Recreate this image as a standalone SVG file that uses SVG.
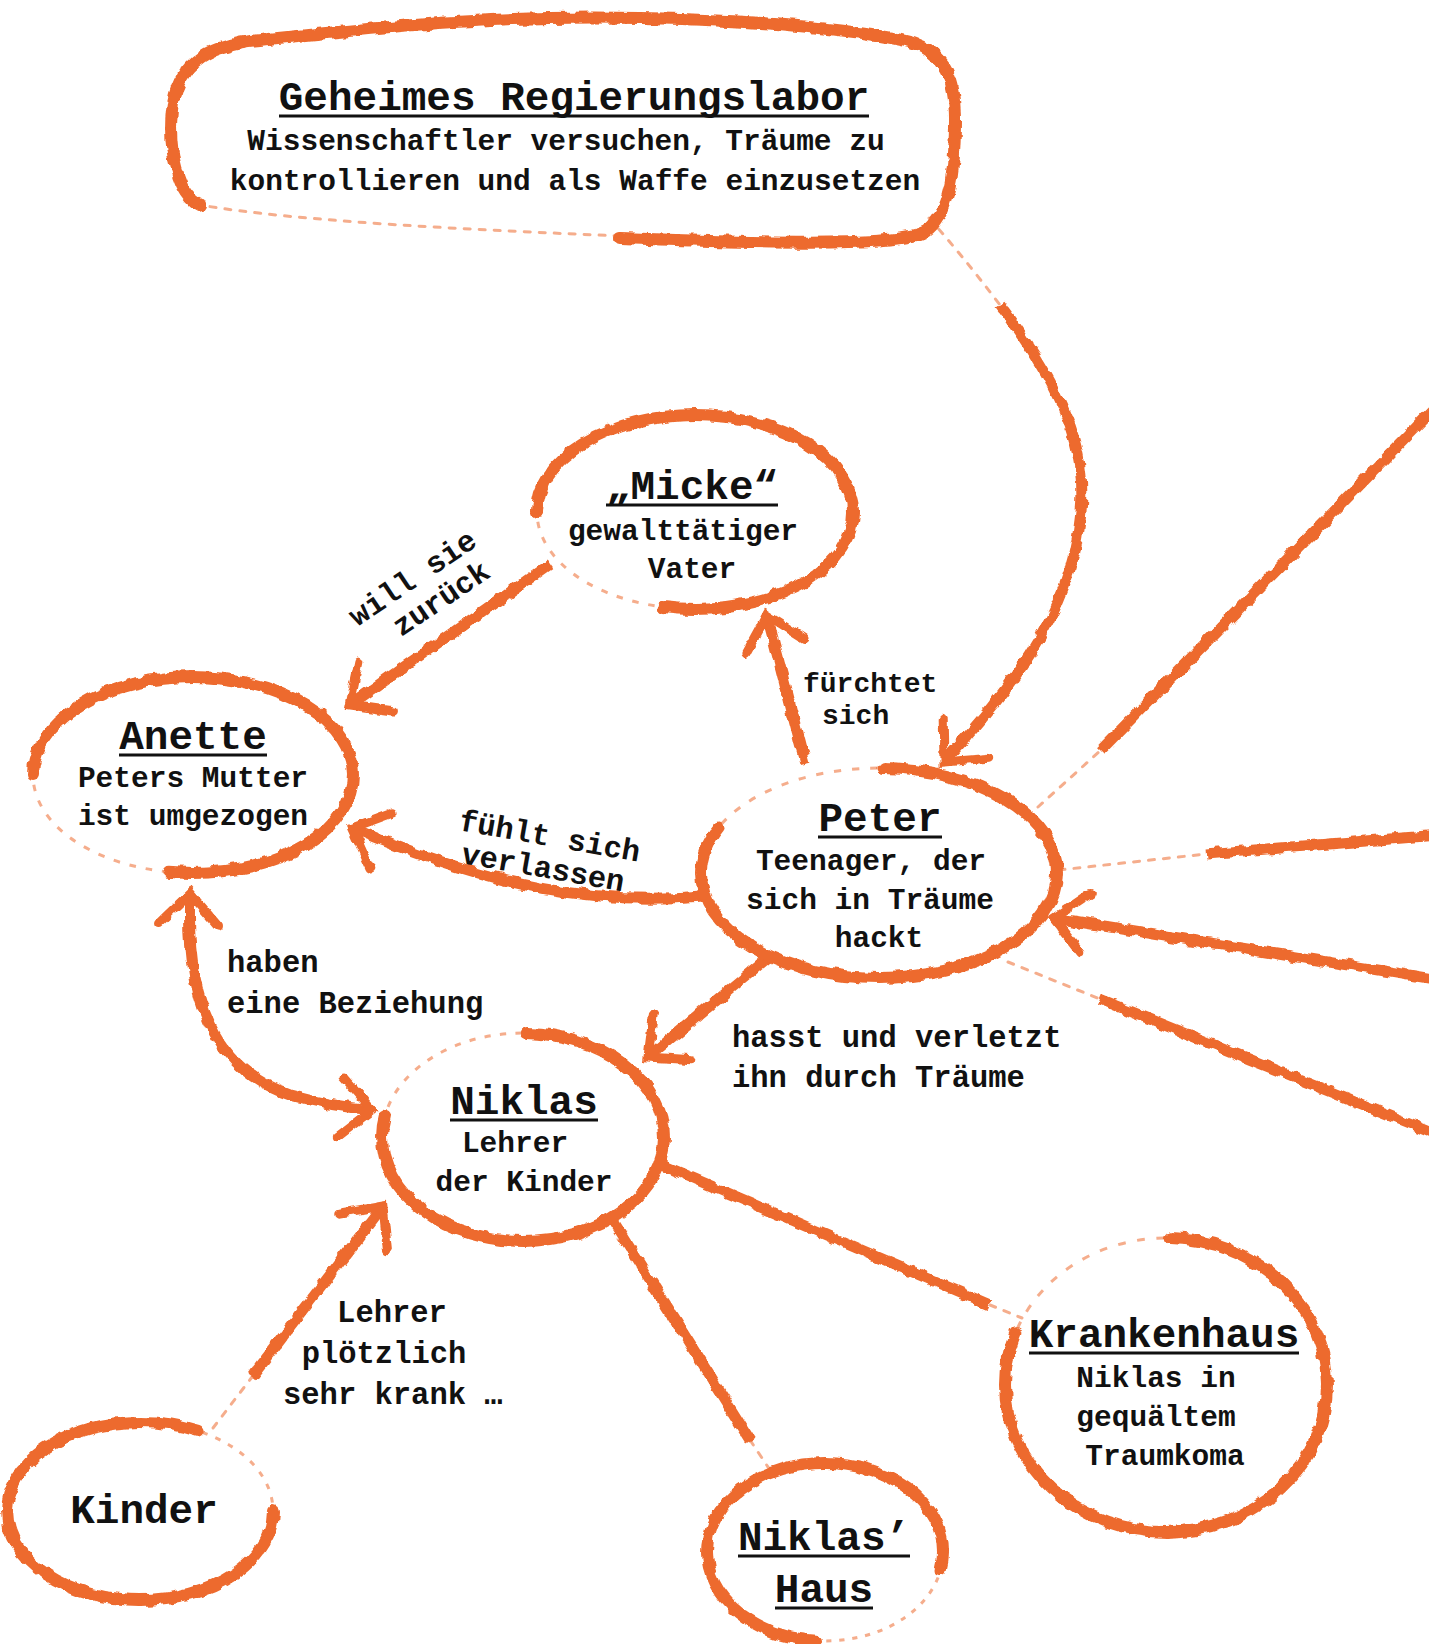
<svg xmlns="http://www.w3.org/2000/svg" width="1429" height="1644" viewBox="0 0 1429 1644">
<style>
.sh{fill:none;stroke:#ED6A2E;stroke-width:12;stroke-linecap:round;stroke-linejoin:round;filter:url(#r)}
.fe{fill:none;stroke:#ED6A2E;stroke-width:3;stroke-opacity:.55;stroke-dasharray:0.8 1.2}
.fd{fill:none;stroke:#ED6A2E;stroke-width:3;stroke-opacity:.55;stroke-dasharray:6 9;stroke-linecap:round}
.cn{fill:none;stroke:#ED6A2E;stroke-width:11;stroke-linecap:butt;stroke-linejoin:round;filter:url(#r)}
text{font-family:"Liberation Mono","Courier New",monospace;fill:#111;font-weight:bold}
.t{font-size:41px;text-anchor:middle}
.b{font-size:29.5px;text-anchor:middle}
.l{font-size:30.5px}
.s{font-size:28px}
.u{stroke:#111;stroke-width:3}
</style>
<defs>
<filter id="r" filterUnits="userSpaceOnUse" x="0" y="0" width="1429" height="1644">
<feTurbulence type="fractalNoise" baseFrequency="0.09" numOctaves="2" seed="7" result="n"/>
<feDisplacementMap in="SourceGraphic" in2="n" scale="7" xChannelSelector="R" yChannelSelector="G"/>
</filter>
<marker id="ah" markerUnits="userSpaceOnUse" markerWidth="100" markerHeight="100" viewBox="-50 -50 100 100" refX="0" refY="0" orient="auto-start-reverse" overflow="visible">
<path d="M-32,-30 L0,0 L-32,30" fill="none" stroke="#ED6A2E" stroke-width="9" stroke-linecap="round"/>
</marker>
</defs>
<rect width="1429" height="1644" fill="#fff"/>

<g id="connectors">
<path class="fd" d="M929 218 Q962 255 1000 305"/>
<path class="cn" marker-end="url(#ah)" d="M1000 305 C1060 385 1090 450 1080 520 C1070 620 1000 700 944 762"/>
<path class="cn" marker-end="url(#ah)" d="M550 564 L350 705"/>
<path class="cn" marker-end="url(#ah)" d="M805 763 L767 615"/>
<path class="cn" marker-end="url(#ah)" d="M702 896 C600 905 500 890 352 828"/>
<path class="cn" marker-start="url(#ah)" marker-end="url(#ah)" d="M190 893 C185 1000 215 1070 290 1095 Q330 1106 372 1110"/>
<path class="cn" marker-end="url(#ah)" d="M771 955 L648 1057"/>
<path class="fd" d="M213 1428 L252 1377"/>
<path class="cn" marker-end="url(#ah)" d="M252 1377 L383 1206"/>
<path class="cn" d="M660 1164 L990 1305"/>
<path class="fd" d="M990 1305 L1022 1318"/>
<path class="cn" d="M613 1221 L750 1440"/>
<path class="fd" d="M750 1440 L770 1470"/>
<path class="fd" d="M1038 807 L1101 750"/>
<path class="cn" d="M1101 750 L1440 403"/>
<path class="fd" d="M1059 870 L1206 854"/>
<path class="cn" d="M1206 854 L1440 835"/>
<path class="cn" marker-end="url(#ah)" d="M1440 980 L1054 918"/>
<path class="fd" d="M1008 962 L1100 999"/>
<path class="cn" d="M1100 999 L1440 1136"/>
</g>

<g id="labels">
<g transform="translate(418 586) rotate(-34)">
<text class="l" text-anchor="middle" x="0" y="0">will sie</text>
<text class="l" text-anchor="middle" x="12" y="33">zurück</text>
</g>
<text class="s" x="803" y="692">fürchtet</text>
<text class="s" x="822" y="724">sich</text>
<g transform="translate(458 830) rotate(10)">
<text class="l" x="0" y="0">fühlt sich</text>
<text class="l" x="8" y="32">verlassen</text>
</g>
<text class="l" x="227" y="972">haben</text>
<text class="l" x="227" y="1013">eine Beziehung</text>
<text class="l" x="732" y="1047">hasst und verletzt</text>
<text class="l" x="732" y="1087">ihn durch Träume</text>
<text class="l" text-anchor="middle" x="392" y="1322">Lehrer</text>
<text class="l" text-anchor="middle" x="384" y="1363">plötzlich</text>
<text class="l" x="283" y="1404">sehr krank …</text>
</g>

<g id="lab">
<path class="sh" d="M200 205 C178 195 168 150 172 110 C176 70 200 45 260 40 C400 25 500 15 640 18 C760 20 860 30 910 42 C945 52 955 80 955 120 C955 170 950 215 925 232 C900 245 800 245 620 238"/>
<path class="fd" d="M620 236 C480 230 300 222 200 205"/>
<text class="t" x="574" y="110">Geheimes Regierungslabor</text>
<line class="u" x1="279" y1="116" x2="869" y2="116"/>
<text class="b" x="566" y="150">Wissenschaftler versuchen, Träume zu</text>
<text class="b" x="575" y="190">kontrollieren und als Waffe einzusetzen</text>
</g>

<g id="micke">
<ellipse class="fe" cx="695" cy="512" rx="158" ry="97" pathLength="100"/>
<ellipse class="sh" cx="695" cy="512" rx="158" ry="97" pathLength="100" stroke-dasharray="79 21" stroke-dashoffset="50"/>
<text class="t" x="692" y="499">„Micke“</text>
<line class="u" x1="606" y1="505" x2="778" y2="505"/>
<text class="b" x="683" y="540">gewalttätiger</text>
<text class="b" x="692" y="578">Vater</text>
</g>

<g id="anette">
<ellipse class="fe" cx="193" cy="775" rx="160" ry="98" pathLength="100"/>
<ellipse class="sh" cx="193" cy="775" rx="160" ry="98" pathLength="100" stroke-dasharray="78 22" stroke-dashoffset="50"/>
<text class="t" x="193" y="749">Anette</text>
<line class="u" x1="119" y1="755" x2="267" y2="755"/>
<text class="b" x="193" y="787">Peters Mutter</text>
<text class="b" x="193" y="825">ist umgezogen</text>
</g>

<g id="peter">
<ellipse class="fe" cx="879" cy="873" rx="178" ry="105" pathLength="100"/>
<ellipse class="sh" cx="879" cy="873" rx="178" ry="105" pathLength="100" stroke-dasharray="80 20" stroke-dashoffset="24.5"/>
<text class="t" x="880" y="831">Peter</text>
<line class="u" x1="818" y1="837" x2="942" y2="837"/>
<text class="b" x="871" y="870">Teenager, der</text>
<text class="b" x="870" y="909">sich in Träume</text>
<text class="b" x="879" y="947">hackt</text>
</g>

<g id="niklas">
<ellipse class="fe" cx="523" cy="1137" rx="141" ry="104" pathLength="100"/>
<ellipse class="sh" cx="523" cy="1137" rx="141" ry="104" pathLength="100" stroke-dasharray="77.3 22.7" stroke-dashoffset="24.5"/>
<text class="t" x="524" y="1114">Niklas</text>
<line class="u" x1="450" y1="1120" x2="598" y2="1120"/>
<text class="b" x="515" y="1152">Lehrer</text>
<text class="b" x="524" y="1191">der Kinder</text>
</g>

<g id="krankenhaus">
<ellipse class="fe" cx="1166" cy="1385" rx="161" ry="147" pathLength="100"/>
<ellipse class="sh" cx="1166" cy="1385" rx="161" ry="147" pathLength="100" stroke-dasharray="80 20" stroke-dashoffset="24.5"/>
<text class="t" x="1164" y="1347">Krankenhaus</text>
<line class="u" x1="1029" y1="1353" x2="1299" y2="1353"/>
<text class="b" x="1156" y="1387">Niklas in</text>
<text class="b" x="1156" y="1426">gequältem</text>
<text class="b" x="1165" y="1465">Traumkoma</text>
</g>

<g id="kinder">
<ellipse class="fe" cx="140" cy="1511" rx="133" ry="89" pathLength="100"/>
<ellipse class="sh" cx="140" cy="1511" rx="133" ry="89" pathLength="100" stroke-dasharray="83.3 16.7" stroke-dashoffset="0"/>
<text class="t" x="144" y="1523">Kinder</text>
</g>

<g id="niklas-haus">
<ellipse class="fe" cx="825" cy="1552" rx="118" ry="89" pathLength="100"/>
<ellipse class="sh" cx="825" cy="1552" rx="118" ry="89" pathLength="100" stroke-dasharray="76.4 23.6" stroke-dashoffset="73.6"/>
<text class="t" x="824" y="1550">Niklas’</text>
<line class="u" x1="738" y1="1556" x2="910" y2="1556"/>
<text class="t" x="824" y="1602">Haus</text>
<line class="u" x1="775" y1="1608" x2="873" y2="1608"/>
</g>
</svg>
